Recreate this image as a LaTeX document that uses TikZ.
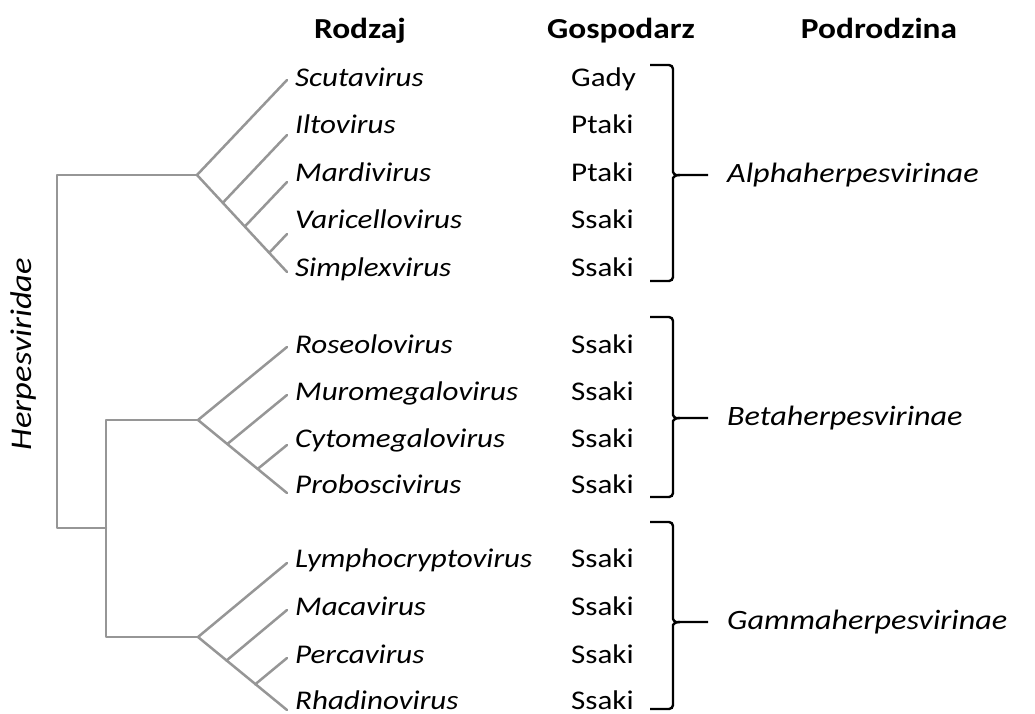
\documentclass[tikz,border=0pt]{standalone}
\usepackage{fontspec}
\setmainfont{Carlito}[FakeStretch=1.15]
\definecolor{treegray}{RGB}{150,150,150}
\tikzset{
  branch/.style={draw=treegray, line width=2.5pt, line cap=round, line join=round},
  brk/.style={draw=black, line width=2.4pt, rounded corners=4pt},
  genus/.style={anchor=base west, inner sep=0pt, font=\fontsize{27}{31}\selectfont\itshape},
  host/.style={anchor=base west, inner sep=0pt, font=\fontsize{27}{31}\selectfont},
  head/.style={anchor=base, inner sep=0pt, font=\fontsize{29}{33}\selectfont\bfseries},
  sub/.style={anchor=west, inner sep=0pt, font=\fontsize{28}{32}\selectfont\itshape}
}
\begin{document}
\begin{tikzpicture}[x=1pt,y=-1pt]
\useasboundingbox (0,0) rectangle (1035,713);
% headers
\node[head] (h1) at (360,38) {Rodzaj};
\node[head] (h2) at (621,38) {Gospodarz};
\node[head] (h3) at (879,38) {Podrodzina};
% root
\node[rotate=90, inner sep=0pt, font=\fontsize{30}{34}\selectfont\itshape] (fam) at (24,354) {Herpesviridae};
\coordinate (r1) at (57,175);
\coordinate (r2) at (57,528);
\coordinate (s1) at (106,528);
\coordinate (s2) at (106,420);
\coordinate (s3) at (106,637);
\coordinate (A) at (197,175);
\coordinate (B) at (198,420);
\coordinate (G) at (198,637);
\draw[branch] (A) -- (r1) -- (r2) -- (s1);
\draw[branch] (B) -- (s2) -- (s3) -- (G);
% alpha
\coordinate (a1) at (287,80);
\coordinate (a2) at (287,135);
\coordinate (a3) at (287,182);
\coordinate (a4) at (287,234);
\coordinate (a5) at (287,272);
\coordinate (ja1) at (222.8,202.8);
\coordinate (ja2) at (244.8,226.5);
\coordinate (ja3) at (269.2,252.8);
\draw[branch] (a1) -- (A) -- (a5);
\draw[branch] (ja1) -- (a2);
\draw[branch] (ja2) -- (a3);
\draw[branch] (ja3) -- (a4);
% beta
\coordinate (b1) at (287,347);
\coordinate (b2) at (287,395);
\coordinate (b3) at (287,445);
\coordinate (b4) at (287,493);
\coordinate (jb1) at (227.3,444);
\coordinate (jb2) at (257.7,468.9);
\draw[branch] (b1) -- (B) -- (b4);
\draw[branch] (jb1) -- (b2);
\draw[branch] (jb2) -- (b3);
% gamma
\coordinate (g1) at (287,563);
\coordinate (g2) at (287,610);
\coordinate (g3) at (287,658);
\coordinate (g4) at (287,710);
\coordinate (jg1) at (226.4,660.6);
\coordinate (jg2) at (255.1,684.4);
\draw[branch] (g1) -- (G) -- (g4);
\draw[branch] (jg1) -- (g2);
\draw[branch] (jg2) -- (g3);
% genera
\node[genus] (n1) at (295,86) {Scutavirus};
\node[genus] (n2) at (295,133) {Iltovirus};
\node[genus] (n3) at (295,181) {Mardivirus};
\node[genus] (n4) at (295,228) {Varicellovirus};
\node[genus] (n5) at (295,276) {Simplexvirus};
\node[genus] (n6) at (295,353) {Roseolovirus};
\node[genus] (n7) at (295,400) {Muromegalovirus};
\node[genus] (n8) at (295,447) {Cytomegalovirus};
\node[genus] (n9) at (295,493) {Proboscivirus};
\node[genus] (n10) at (295,567) {Lymphocryptovirus};
\node[genus] (n11) at (295,615) {Macavirus};
\node[genus] (n12) at (295,663) {Percavirus};
\node[genus] (n13) at (295,709) {Rhadinovirus};
% hosts
\node[host] (o1) at (571,86) {Gady};
\node[host] (o2) at (571,133) {Ptaki};
\node[host] (o3) at (571,181) {Ptaki};
\node[host] (o4) at (571,228) {Ssaki};
\node[host] (o5) at (571,276) {Ssaki};
\node[host] (o6) at (571,353) {Ssaki};
\node[host] (o7) at (571,400) {Ssaki};
\node[host] (o8) at (571,447) {Ssaki};
\node[host] (o9) at (571,493) {Ssaki};
\node[host] (o10) at (571,567) {Ssaki};
\node[host] (o11) at (571,615) {Ssaki};
\node[host] (o12) at (571,663) {Ssaki};
\node[host] (o13) at (571,709) {Ssaki};
% brackets
\node[sub] (pa) at (727,175) {Alphaherpesvirinae};
\node[sub] (pb) at (727,418) {Betaherpesvirinae};
\node[sub] (pg) at (727,622) {Gammaherpesvirinae};
\coordinate (ta) at (708,175);
\coordinate (tb) at (708,418);
\coordinate (tg) at (708,622);
\draw[brk] (650,65) -- (673,65) -- (673,168) .. controls (673,173) and (675,175) .. (680,175) -- (ta);
\draw[brk] (650,281) -- (673,281) -- (673,182) .. controls (673,177) and (675,175) .. (680,175);
\draw[brk] (650,317) -- (673,317) -- (673,411) .. controls (673,416) and (675,418) .. (680,418) -- (tb);
\draw[brk] (650,497) -- (673,497) -- (673,425) .. controls (673,420) and (675,418) .. (680,418);
\draw[brk] (650,522) -- (673,522) -- (673,615) .. controls (673,620) and (675,622) .. (680,622) -- (tg);
\draw[brk] (650,709) -- (673,709) -- (673,629) .. controls (673,624) and (675,622) .. (680,622);
\end{tikzpicture}
\end{document}
